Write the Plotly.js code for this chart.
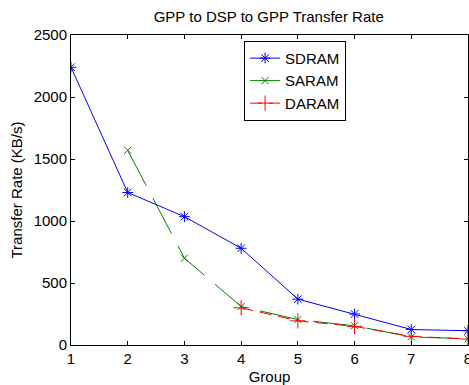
<!DOCTYPE html>
<html>
<head>
<meta charset="utf-8">
<script src="https://cdn.plot.ly/plotly-3.0.1.min.js"></script>
<style>html,body{margin:0;padding:0;background:#fff;}#chart{width:469px;height:385px;}</style>
</head>
<body>
<div id="chart"></div>
<script>
const groups = [1, 2, 3, 4, 5, 6, 7, 8];
const sdram = [2240, 1230, 1035, 780, 370, 250, 125, 115];
const saramX = [2, 3, 4, 5, 6, 7, 8];
const saram = [1570, 700, 310, 205, 155, 65, 50];
const daramX = [4, 5, 6, 7, 8];
const daram = [300, 195, 150, 70, 48];
const xTicks = [1, 2, 3, 4, 5, 6, 7, 8];
const yTicks = [0, 500, 1000, 1500, 2000, 2500];

const fam = 'Liberation Sans, Arial, sans-serif';
const font = {family: fam, size: 15, color: '#000'};

const traces = [
  {x: groups, y: sdram, name: 'SDRAM', mode: 'lines+markers',
   line: {color: '#0000ff', width: 1},
   marker: {symbol: 'asterisk-open', size: 9, color: '#0000ff', line: {color: '#0000ff', width: 1}}},
  {x: saramX, y: saram, name: 'SARAM', mode: 'lines+markers',
   line: {color: '#008000', width: 1, dash: '40px,14px'},
   marker: {symbol: 'x-thin-open', size: 7, color: '#008000', line: {color: '#008000', width: 1}}},
  {x: daramX, y: daram, name: 'DARAM', mode: 'lines+markers',
   line: {color: '#ff0000', width: 1, dash: '12px,7px'},
   marker: {symbol: 'cross-thin-open', size: 11, color: '#ff0000', line: {color: '#ff0000', width: 1}}}
];

const layout = {
  width: 469, height: 385,
  margin: {l: 71, r: 1, t: 35, b: 40},
  paper_bgcolor: '#fff', plot_bgcolor: '#fff',
  font: font,
  showlegend: true,
  title: {text: 'GPP to DSP to GPP Transfer Rate', font: font,
          x: 0.573, xanchor: 'center', y: 0.956, yanchor: 'middle'},
  xaxis: {range: [1, 8], tickvals: xTicks, ticktext: xTicks.map(String),
          ticks: 'inside', ticklen: 4, tickcolor: '#000', showgrid: false, zeroline: false,
          showline: true, linecolor: '#000', linewidth: 1, mirror: 'ticks',
          ticklabeloverflow: 'allow',
          title: {text: 'Group', font: font, standoff: 5},
          tickfont: font},
  yaxis: {range: [0, 2500], tickvals: yTicks, ticktext: yTicks.map(String),
          ticks: 'inside', ticklen: 4, tickcolor: '#000', showgrid: false, zeroline: false,
          showline: true, linecolor: '#000', linewidth: 1, mirror: 'ticks',
          title: {text: 'Transfer Rate (KB/s)', font: font, standoff: 7},
          tickfont: font},
  legend: {x: 0.436, y: 0.981, xanchor: 'left', yanchor: 'top',
           bordercolor: '#000', borderwidth: 1, bgcolor: '#fff',
           font: font, tracegroupgap: 0, itemwidth: 30}
};

Plotly.newPlot('chart', traces, layout, {displayModeBar: false, staticPlot: true});
</script>
</body>
</html>
